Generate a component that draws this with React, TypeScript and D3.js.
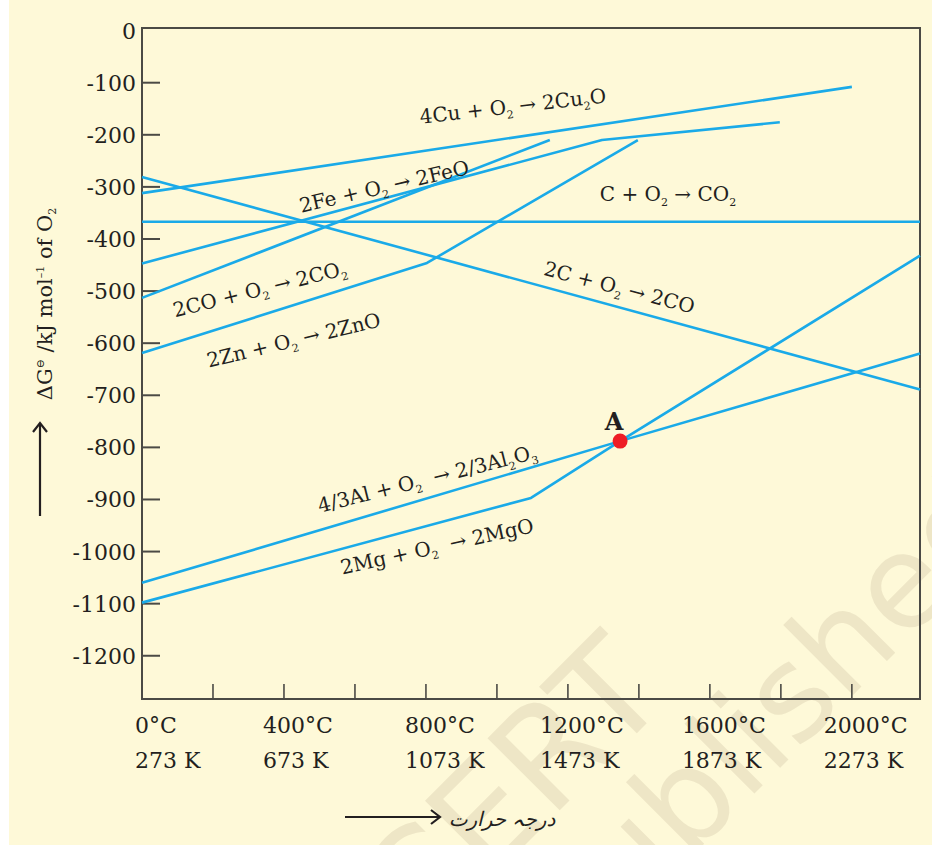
import React, { useEffect, useRef } from 'react';
import * as d3 from 'd3';

// Ellingham diagram: temperature in °C, ΔG° in kJ per mol of O2
const cuOxide = [[0, -312], [2000, -108]];
const feOxide = [[0, -447], [1296, -210], [1797, -176]];
const coToCo2 = [[0, -513], [1149, -210]];
const znOxide = [[0, -619], [803, -446], [1397, -210]];
const cToCo2 = [[0, -367], [2192, -367]];
const cToCo = [[0, -281], [2192, -689]];
const alOxide = [[0, -1060], [1347, -788], [2192, -620]];
const mgOxide = [[0, -1098], [1096, -897], [1347, -788], [2192, -432]];
const pointA = [1347, -788];

const yTicks = [0, -100, -200, -300, -400, -500, -600, -700, -800, -900, -1000, -1100, -1200];
const xTicks = [200, 400, 600, 800, 1000, 1200, 1400, 1600, 1800, 2000];
const celsiusLabels = [0, 400, 800, 1200, 1600, 2000];
const kelvinLabels = ['273 K', '673 K', '1073 K', '1473 K', '1873 K', '2273 K'];

// "_x" marks a subscript character
const reactionLabels = [
  '4Cu + O_2 → 2Cu_2O',
  '2Fe + O_2 → 2FeO',
  '2CO + O_2 → 2CO_2',
  '2Zn + O_2 → 2ZnO',
  'C + O_2 → CO_2',
  '2C + O_2 → 2CO',
  '4/3Al + O_2  → 2/3Al_2O_3',
  '2Mg + O_2  → 2MgO',
];

// where each label sits (data units) and its tilt
const labelLayout = [
  { at: [1045, -145], angle: -6.5 },
  { at: [682, -299], angle: -13 },
  { at: [332, -496], angle: -14 },
  { at: [427, -594], angle: -13.5 },
  { at: [1482, -314], angle: 0 },
  { at: [1345, -493], angle: 14.5 },
  { at: [804, -860], angle: -14 },
  { at: [831, -990], angle: -12.5 },
];

const BG = '#FEF9D8';
const LINE = '#1AAAE8';
const INK = '#231F20';
const FRAME = '#4B4A45';
const SERIF = '"DejaVu Serif", serif';

const App: React.FC = () => {
  const svgRef = useRef<SVGSVGElement>(null);

  useEffect(() => {
    if (!svgRef.current) return;
    const svg = d3.select(svgRef.current);
    svg.selectAll('*').remove();

    const x = d3.scaleLinear().domain([0, 2192]).range([142, 920]);
    const y = d3.scaleLinear().domain([-1283, 5]).range([699, 28]);

    svg.append('rect')
      .attr('x', 9).attr('y', 0)
      .attr('width', 923).attr('height', 845)
      .attr('fill', BG);

    // faint watermark
    const wm = svg.append('g')
      .attr('fill', '#EEE6C6')
      .style('font-family', '"DejaVu Sans", sans-serif');
    wm.append('text')
      .attr('transform', 'translate(672,698) rotate(-45)')
      .attr('text-anchor', 'end')
      .style('font-size', '140px')
      .text('©NCERT');
    wm.append('text')
      .attr('transform', 'translate(1018,530) rotate(-45)')
      .attr('text-anchor', 'end')
      .style('font-size', '130px')
      .text('republished');

    // frame
    svg.append('rect')
      .attr('x', x(0)).attr('y', 28)
      .attr('width', x(2192) - x(0)).attr('height', 699 - 28)
      .attr('fill', 'none')
      .attr('stroke', FRAME)
      .attr('stroke-width', 2);

    // y ticks
    svg.selectAll('.ytick')
      .data(yTicks.filter(d => d !== 0))
      .enter()
      .append('line')
      .attr('x1', x(0)).attr('x2', x(0) + 18)
      .attr('y1', d => y(d)).attr('y2', d => y(d))
      .attr('stroke', FRAME)
      .attr('stroke-width', 2);

    svg.selectAll('.ylabel')
      .data(yTicks)
      .enter()
      .append('text')
      .attr('x', 136)
      .attr('y', d => y(d) + 8)
      .attr('text-anchor', 'end')
      .style('font-family', SERIF)
      .style('font-size', '22px')
      .attr('fill', INK)
      .text(d => `${d}`);

    // x ticks
    svg.selectAll('.xtick')
      .data(xTicks)
      .enter()
      .append('line')
      .attr('x1', d => x(d)).attr('x2', d => x(d))
      .attr('y1', 699).attr('y2', 684)
      .attr('stroke', FRAME)
      .attr('stroke-width', 1.6);

    celsiusLabels.forEach((t, i) => {
      const num = `${t}`;
      const c = svg.append('text')
        .attr('y', 733)
        .style('font-family', SERIF)
        .style('font-size', '22px')
        .attr('fill', INK);
      c.append('tspan').text(num);
      c.append('tspan').text('°C');
      const w = (c.node() as SVGTextElement).getSubStringLength(0, num.length);
      const left = x(t) - w / 2;
      c.attr('x', left);
      svg.append('text')
        .attr('x', left)
        .attr('y', 768)
        .style('font-family', SERIF)
        .style('font-size', '22px')
        .attr('fill', INK)
        .text(kelvinLabels[i]);
    });

    // reaction lines
    const line = d3.line<number[]>()
      .x(d => x(d[0]))
      .y(d => y(d[1]));

    [cuOxide, feOxide, coToCo2, znOxide, cToCo2, cToCo, alOxide, mgOxide].forEach(series => {
      svg.append('path')
        .datum(series)
        .attr('d', line)
        .attr('fill', 'none')
        .attr('stroke', LINE)
        .attr('stroke-width', 2.6)
        .attr('stroke-linejoin', 'round');
    });

    // reaction labels
    reactionLabels.forEach((label, i) => {
      const { at, angle } = labelLayout[i];
      const t = svg.append('text')
        .attr('transform', `translate(${x(at[0])},${y(at[1])}) rotate(${angle})`)
        .attr('y', 7)
        .attr('text-anchor', 'middle')
        .style('font-family', SERIF)
        .style('font-size', '20px')
        .style('white-space', 'pre')
        .attr('fill', INK);
      label.split(/_(.)/).forEach((part, j) => {
        if (j % 2 === 1) {
          t.append('tspan').attr('dy', 5).style('font-size', '11px').text(part);
        } else if (part) {
          t.append('tspan').attr('dy', j > 0 ? -5 : 0).text(part);
        }
      });
    });

    // point A
    svg.append('circle')
      .attr('cx', x(pointA[0]))
      .attr('cy', y(pointA[1]))
      .attr('r', 7.5)
      .attr('fill', '#EE1D25');
    svg.append('text')
      .attr('x', x(pointA[0]) - 6)
      .attr('y', y(pointA[1]) - 11)
      .attr('text-anchor', 'middle')
      .style('font-family', SERIF)
      .style('font-size', '24px')
      .style('font-weight', 'bold')
      .attr('fill', INK)
      .text('A');

    // y axis title with arrow
    const yt = svg.append('text')
      .attr('transform', 'translate(52,304) rotate(-90)')
      .attr('text-anchor', 'middle')
      .style('font-family', SERIF)
      .style('font-size', '21px')
      .style('white-space', 'pre')
      .attr('fill', INK);
    yt.append('tspan').text('ΔG');
    yt.append('tspan').attr('dy', -8).style('font-size', '11px').text('⊖');
    yt.append('tspan').attr('dy', 8).text(' /kJ mol');
    yt.append('tspan').attr('dy', -8).style('font-size', '11px').text('–1');
    yt.append('tspan').attr('dy', 8).text(' of O');
    yt.append('tspan').attr('dy', 4).style('font-size', '11px').text('2');

    const arrows = svg.append('g')
      .attr('fill', 'none')
      .attr('stroke', INK)
      .attr('stroke-width', 2.2);
    arrows.append('line').attr('x1', 40).attr('y1', 516).attr('x2', 40).attr('y2', 423);
    arrows.append('polyline').attr('points', '33,432 40,423 47,432');
    arrows.append('line').attr('x1', 345).attr('y1', 817).attr('x2', 440).attr('y2', 817);
    arrows.append('polyline').attr('points', '431,810 440,817 431,824');

    svg.append('text')
      .attr('x', 502)
      .attr('y', 826)
      .attr('text-anchor', 'middle')
      .style('font-family', '"DejaVu Sans", sans-serif')
      .style('font-size', '20px')
      .style('font-style', 'italic')
      .attr('fill', INK)
      .text('درجہ حرارت');
  }, []);

  return (
    <svg
      ref={svgRef}
      width={932}
      height={845}
      viewBox="0 0 932 845"
      style={{ position: 'fixed', left: 0, top: 0, display: 'block' }}
    />
  );
};

export default App;
